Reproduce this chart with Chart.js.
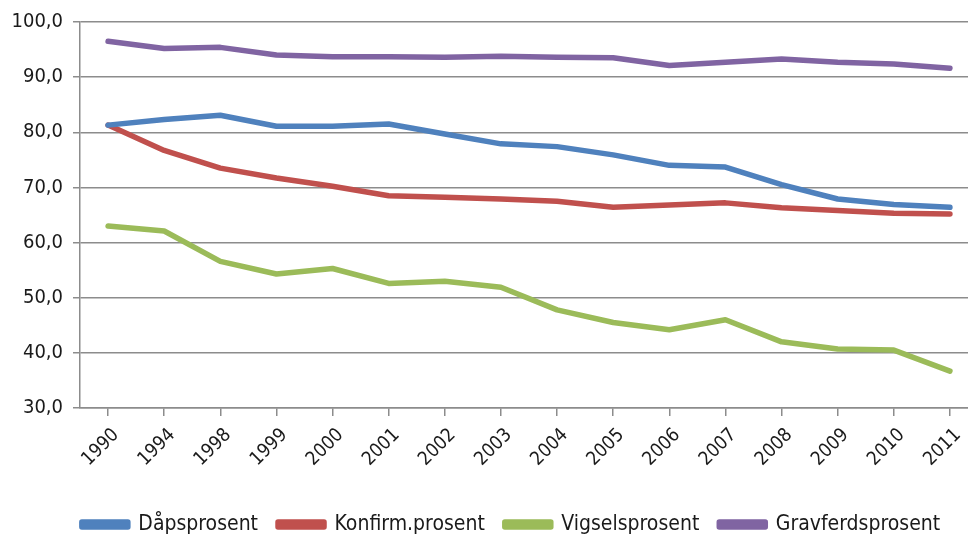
<!DOCTYPE html>
<html>
<head>
<meta charset="utf-8">
<script src="https://cdn.jsdelivr.net/npm/chart.js@4"></script>
<style>
  html, body { margin: 0; padding: 0; background: #fff; overflow: hidden; }
  #wrap { width: 1020px; height: 549px; }
</style>
</head>
<body>
<div id="wrap"><canvas id="kirkeChart" width="1020" height="549"></canvas></div>
<script>
// År og prosentandeler lest av figuren
const years = ["1990", "1994", "1998", "1999", "2000", "2001", "2002", "2003",
               "2004", "2005", "2006", "2007", "2008", "2009", "2010", "2011"];
const daap      = [81.3, 82.3, 83.1, 81.1, 81.1, 81.5, 79.7, 77.9, 77.4, 75.9, 74.0, 73.7, 70.5, 67.9, 66.9, 66.4];
const konfirm   = [81.3, 76.7, 73.5, 71.7, 70.2, 68.5, 68.2, 67.9, 67.5, 66.4, 66.8, 67.2, 66.3, 65.8, 65.3, 65.2];
const vigsel    = [63.0, 62.1, 56.6, 54.3, 55.3, 52.6, 53.0, 51.9, 47.8, 45.5, 44.2, 46.0, 42.0, 40.7, 40.5, 36.7];
const gravferd  = [96.5, 95.2, 95.4, 94.0, 93.7, 93.7, 93.6, 93.8, 93.6, 93.5, 92.1, 92.7, 93.3, 92.7, 92.4, 91.6];
const yTicks = [30, 40, 50, 60, 70, 80, 90, 100];

const fontFam = '"DejaVu Sans Condensed", "Open Sans", sans-serif';

function line(label, data, color) {
    return {
        label: label,
        data: data,
        borderColor: color,
        backgroundColor: color,
        borderWidth: 5.5,
        pointRadius: 0,
        tension: 0,
        borderJoinStyle: 'round',
        borderCapStyle: 'round'
    };
}

// nudge the legend a bit to the right, the original is not centred on the canvas
const shiftLegend = {
    id: 'shiftLegend',
    afterLayout(chart) {
        if (chart.legend) {
            chart.legend.left += 22;
            chart.legend.right += 22;
        }
    }
};

const ctx = document.getElementById('kirkeChart').getContext('2d');
new Chart(ctx, {
    type: 'line',
    data: {
        labels: years,
        datasets: [
            line('Dåpsprosent', daap, '#4F81BD'),
            line('Konfirm.prosent', konfirm, '#C0504D'),
            line('Vigselsprosent', vigsel, '#9BBB59'),
            line('Gravferdsprosent', gravferd, '#8064A2')
        ]
    },
    options: {
        responsive: false,
        animation: false,
        layout: { padding: { top: 16, right: 42, left: 0, bottom: 4 } },
        scales: {
            x: {
                offset: true,
                grid: {
                    drawOnChartArea: false,
                    drawTicks: true,
                    tickLength: 8,
                    color: '#8c8c8c',
                    lineWidth: 1.5
                },
                border: { color: '#8c8c8c', width: 1.5 },
                ticks: {
                    color: '#1a1a1a',
                    font: { family: fontFam, size: 19 },
                    minRotation: 45,
                    maxRotation: 45,
                    autoSkip: false,
                    padding: 8,
                    labelOffset: 8
                },
                afterFit: function(scale) { scale.height = 86; }
            },
            y: {
                min: 30,
                max: 100,
                afterBuildTicks: function(scale) {
                    scale.ticks = yTicks.map(v => ({ value: v }));
                },
                grid: {
                    color: '#8c8c8c',
                    lineWidth: 1.5,
                    tickLength: 7
                },
                border: { color: '#8c8c8c', width: 1.5 },
                ticks: {
                    color: '#1a1a1a',
                    font: { family: fontFam, size: 20 },
                    padding: 10,
                    callback: function(v) { return v.toFixed(1).replace('.', ','); }
                },
                afterFit: function(scale) { scale.width = 80; }
            }
        },
        plugins: {
            legend: {
                position: 'bottom',
                labels: {
                    color: '#1a1a1a',
                    font: { family: fontFam, size: 21 },
                    boxWidth: 46,
                    boxHeight: 5,
                    padding: 20
                }
            },
            tooltip: { enabled: false }
        }
    },
    plugins: [shiftLegend]
});
</script>
</body>
</html>
